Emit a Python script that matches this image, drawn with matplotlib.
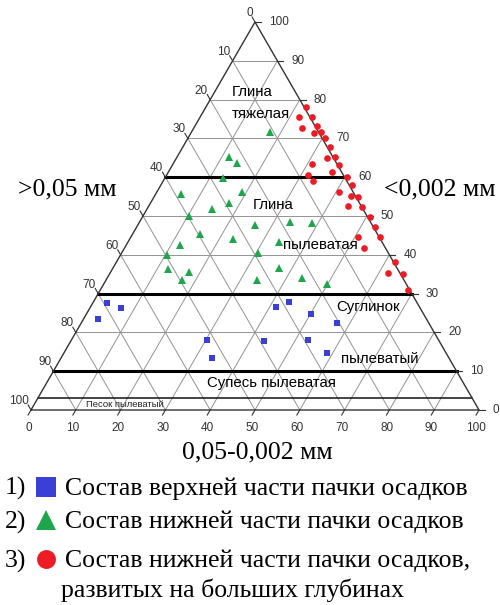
import numpy as np
import matplotlib.pyplot as plt
from matplotlib.lines import Line2D

# composition in %: silt (0.05-0.002 mm) and clay (<0.002 mm); sand is the rest
blue_silt = [3.3, 6.9, 3.3, 30.3, 33.7, 41.5, 43.8, 50.1, 57.1, 43.0, 52.8, 58.6]
blue_clay = [27.5, 26.4, 23.4, 18.0, 13.3, 26.6, 27.8, 24.7, 22.5, 17.8, 18.0, 14.8]

green_silt = [17.4, 11.5, 14.2, 12.9, 5.7, 19.0, 14.5, 17.5, 10.2, 26.2, 33.6, 38.5, 15.0,
              12.1, 23.1, 33.7, 10.3, 30.4, 12.4, 17.5, 17.0, 37.0, 33.8, 43.4, 49.8]
green_clay = [71.7, 65.2, 63.7, 59.8, 55.7, 56.3, 51.8, 53.3, 50.1, 47.6, 48.4, 48.3, 45.4,
              42.5, 44.2, 43.4, 39.9, 40.4, 36.3, 35.5, 33.4, 36.6, 33.5, 34.1, 32.6]

red_silt = [22.3, 22.2, 24.9, 24.3, 27.3, 27.6, 28.9, 30.6, 32.9, 33.7, 35.4, 31.0, 37.1,
            36.5, 31.5, 33.4, 40.6, 42.5, 40.7, 43.9, 45.4, 44.5, 47.6, 50.7, 53.2, 50.6,
            55.7, 53.4, 62.2, 62.2, 65.5, 68.8]
red_clay = [78.2, 75.4, 75.5, 72.6, 73.3, 71.3, 71.6, 70.0, 67.7, 64.9, 65.1, 63.5, 63.1,
            61.3, 60.5, 59.0, 60.0, 58.1, 56.2, 55.1, 55.0, 52.5, 52.4, 49.8, 47.1, 44.7,
            44.5, 41.7, 38.1, 35.2, 35.1, 30.9]

ticks = list(range(0, 101, 10))
bounds = [60, 30, 10]     # thick class boundaries (clay %)
thin_bound = 3

regions = [("Глина", 252, 95.7), ("тяжелая", 261, 118.3), ("Глина", 273, 209),
           ("пылеватая", 320, 249), ("Суглинок", 368, 310.7), ("пылеватый", 380, 363.3),
           ("Супесь пылеватая", 271, 387.3)]

legend_labels = ["Состав верхней части пачки осадков",
                 "Состав нижней части пачки осадков",
                 "Состав нижней части пачки осадков,"]

BLUE = '#3c3fd6'
GREEN = '#1fa64a'
RED = '#ec1b24'
H = np.sqrt(3) / 2
W_PX, H_PX = 500, 605


def xy(silt, clay):
    silt = np.asarray(silt, float)
    clay = np.asarray(clay, float)
    return silt + clay / 2, clay * H


def fpos(px, py):
    return px / W_PX, 1 - py / H_PX


fig = plt.figure(figsize=(5, 6.05), dpi=100)
ax = fig.add_axes([0, 0, 1, 1])
ax.set_xlim(-6.92, 104.69)
ax.set_ylim(-43.53, 91.52)
ax.axis('off')

sans = 'Liberation Sans'
serif = 'Liberation Serif'

# grid
gc = '#939393'
for v in range(10, 100, 10):
    ax.plot(*xy([0, 100 - v], [v, v]), color=gc, lw=0.7, zorder=1)
    ax.plot(*xy([v, v], [0, 100 - v]), color=gc, lw=0.7, zorder=1)
    ax.plot(*xy([100 - v, 0], [0, 100 - v]), color=gc, lw=0.7, zorder=1)

# class boundaries
for c in bounds:
    ax.plot(*xy([0, 100 - c], [c, c]), color='black', lw=2.2, zorder=2)
ax.plot(*xy([0, 100 - thin_bound], [thin_bound, thin_bound]), color='#111111', lw=1.1, zorder=2)

# triangle frame
ax.plot(*xy([0, 100, 0, 0], [0, 0, 100, 0]), color='#333333', lw=1.0, zorder=2)

# ticks and tick labels
L = 1.3
tc = '#333333'
for v in ticks:
    x0, y0 = xy(v, 0)
    ax.plot([x0, x0 - 0.5 * L], [y0, y0 - H * L], color=tc, lw=0.8)
    ax.text(x0 - 0.6, -4.1, str(v), ha='center', va='center', fontsize=8.5,
            family=sans, color=tc)
    x0, y0 = xy(100 - v, v)
    ax.plot([x0, x0 + L], [y0, y0], color=tc, lw=0.8)
    ax.text(x0 + 3.1, y0, str(v), ha='left', va='center', fontsize=8.5,
            family=sans, color=tc)
    x0, y0 = xy(0, 100 - v)
    ax.plot([x0, x0 - 0.5 * L], [y0, y0 + H * L], color=tc, lw=0.8)
    ax.text(x0 - 0.5, y0 + 2.0, str(v), ha='right', va='center', fontsize=8.5,
            family=sans, color=tc)

# data
ax.plot(*xy(blue_silt, blue_clay), 's', color=BLUE, ms=4.9, mew=0, zorder=4)
ax.plot(*xy(green_silt, green_clay), '^', color=GREEN, ms=5.8, mew=0, zorder=4)
ax.plot(*xy(red_silt, red_clay), 'o', color=RED, ms=4.8, mew=0, zorder=4)

# region names
for txt, px, py in regions:
    fig.text(*fpos(px, py), txt, ha='center', va='baseline', fontsize=10.8,
             family=sans, color='black')
fig.text(*fpos(125, 406.7), "Песок пылеватый", ha='center', va='baseline',
         fontsize=6.8, family=sans, color='#222222')

# axis titles
fig.text(*fpos(18, 195), ">0,05 мм", ha='left', va='baseline', fontsize=18.5, family=serif)
fig.text(*fpos(384, 195), "<0,002 мм", ha='left', va='baseline', fontsize=18.5, family=serif)
fig.text(*fpos(257, 458.3), "0,05-0,002 мм", ha='center', va='baseline', fontsize=18.5,
         family=serif)

# legend
rows = [495, 528.3, 567.3]
marks = [('s', BLUE, 14.4), ('^', GREEN, 14.4), ('o', RED, 13.6)]
for i, (lab, y, (m, col, ms)) in enumerate(zip(legend_labels, rows, marks)):
    fig.text(*fpos(5, y), f"{i + 1})", ha='left', va='baseline', fontsize=18.5, family=serif)
    fx, fy = fpos(46, y - 8.5)
    fig.add_artist(Line2D([fx], [fy], marker=m, color=col, ms=ms, mew=0,
                          transform=fig.transFigure))
    fig.text(*fpos(65, y), lab, ha='left', va='baseline', fontsize=18.5, family=serif)
fig.text(*fpos(61, 596.5), "развитых на больших глубинах", ha='left', va='baseline',
         fontsize=18.5, family=serif)

fig.savefig('out.png', dpi=100)
